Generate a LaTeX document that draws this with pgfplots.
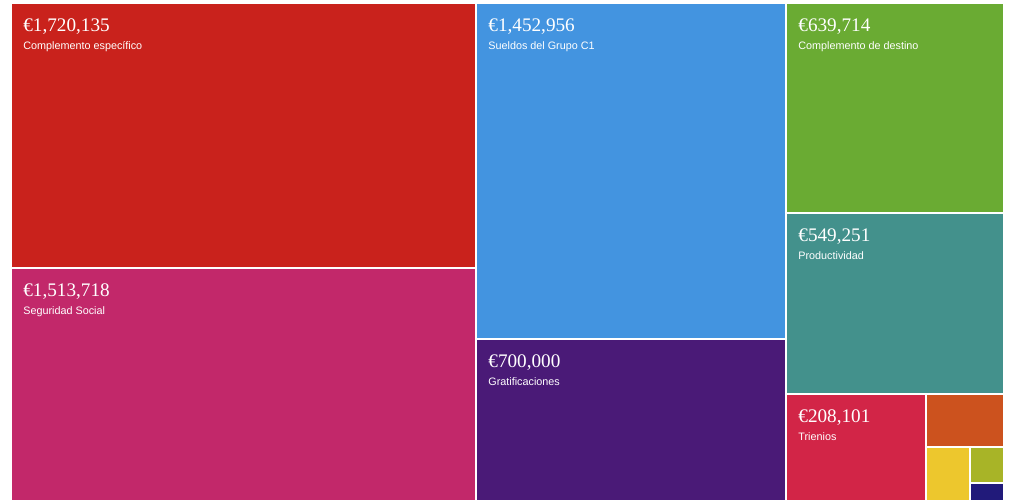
\documentclass[border=0pt]{standalone}
\usepackage{fontspec}
\setmainfont{Liberation Serif}
\newfontfamily\lsans{Liberation Sans}
\usepackage{pgfplots}
\pgfplotsset{compat=1.18}
\definecolor{cRed}{RGB}{201,34,28}
\definecolor{cPink}{RGB}{194,40,106}
\definecolor{cBlue}{RGB}{67,148,224}
\definecolor{cPurple}{RGB}{74,26,119}
\definecolor{cGreen}{RGB}{106,171,51}
\definecolor{cTeal}{RGB}{67,145,140}
\definecolor{cCrimson}{RGB}{210,37,71}
\definecolor{cOrange}{RGB}{204,82,30}
\definecolor{cYellow}{RGB}{237,199,45}
\definecolor{cOlive}{RGB}{168,180,39}
\definecolor{cNavy}{RGB}{33,26,122}
\newcommand{\rect}[5]{\addplot[fill=#1, draw=none, forget plot] coordinates {(#2,#3) (#4,#3) (#4,#5) (#2,#5)} -- cycle;}
\newcommand{\lbl}[4]{%
  \node[anchor=base west, inner sep=0pt, text=white, font=\fontsize{9.6pt}{10pt}\selectfont] at (axis cs:#1,#2+27) {#3};
  \node[anchor=base west, inner sep=0pt, text=white, font=\lsans\fontsize{5.4pt}{6pt}\selectfont] at (axis cs:#1,#2+45) {#4};}
\begin{document}
\begin{tikzpicture}
\begin{axis}[
  width=512pt, height=250pt, scale only axis,
  xmin=0, xmax=1024, ymin=0, ymax=500, y dir=reverse,
  hide axis, clip=true]
\rect{cRed}{12}{4}{475}{267}
\rect{cPink}{12}{269}{475}{500}
\rect{cBlue}{477}{4}{785}{338}
\rect{cPurple}{477}{340}{785}{500}
\rect{cGreen}{787}{4}{1003}{212}
\rect{cTeal}{787}{214}{1003}{393}
\rect{cCrimson}{787}{395}{925}{500}
\rect{cOrange}{927}{395}{1003}{446}
\rect{cYellow}{927}{448}{969}{500}
\rect{cOlive}{971}{448}{1003}{482}
\rect{cNavy}{971}{484}{1003}{500}
\lbl{23}{4}{€1,720,135}{Complemento específico}
\lbl{23}{269}{€1,513,718}{Seguridad Social}
\lbl{488}{4}{€1,452,956}{Sueldos del Grupo C1}
\lbl{488}{340}{€700,000}{Gratificaciones}
\lbl{798}{4}{€639,714}{Complemento de destino}
\lbl{798}{214}{€549,251}{Productividad}
\lbl{798}{395}{€208,101}{Trienios}
\end{axis}
\path (current axis.south west) rectangle (current axis.north east);
\end{tikzpicture}
\end{document}
